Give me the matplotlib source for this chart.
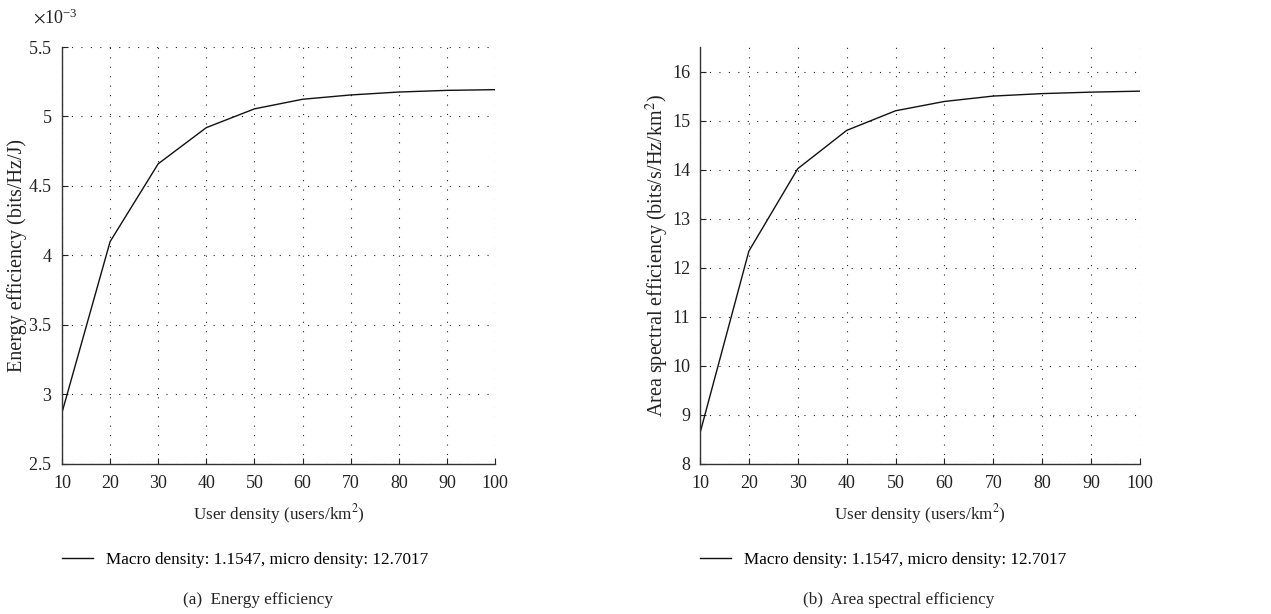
import matplotlib
matplotlib.use("Agg")
import matplotlib.pyplot as plt
from matplotlib.ticker import ScalarFormatter

plt.rcParams['font.family'] = ['Liberation Serif', 'DejaVu Serif']
plt.rcParams['mathtext.fontset'] = 'stix'

user_density = [10, 20, 30, 40, 50, 60, 70, 80, 90, 100]
energy_eff = [2.87e-3, 4.10e-3, 4.66e-3, 4.92e-3, 5.055e-3, 5.124e-3, 5.155e-3, 5.176e-3, 5.188e-3, 5.193e-3]
area_se = [8.63, 12.34, 14.02, 14.80, 15.20, 15.39, 15.50, 15.55, 15.58, 15.60]
legend_label = "Macro density: 1.1547, micro density: 12.7017"
xticks = [10, 20, 30, 40, 50, 60, 70, 80, 90, 100]
ee_yticks = [2.5e-3, 3e-3, 3.5e-3, 4e-3, 4.5e-3, 5e-3, 5.5e-3]
ase_yticks = [8, 9, 10, 11, 12, 13, 14, 15, 16]

W, H = 1271, 614
fig = plt.figure(figsize=(W / 100, H / 100), dpi=100)

def px_axes(l, r, t, b):
    return fig.add_axes([l / W, 1 - b / H, (r - l) / W, (b - t) / H])

ax1 = px_axes(62, 495, 47, 464)
ax2 = px_axes(700, 1140, 47, 464)

fs_tick = 13
fs = 12.3
fs_ylab = 14.5
txt_color = '#222222'

def style(ax):
    for s in ['top', 'right']:
        ax.spines[s].set_visible(False)
    for s in ['left', 'bottom']:
        ax.spines[s].set_linewidth(1.0)
        ax.spines[s].set_color('#333333')
    ax.tick_params(direction='in', length=4, width=0.8, labelsize=fs_tick, colors=txt_color)
    ax.tick_params(axis='x', pad=8)
    ax.tick_params(axis='y', pad=7)
    ax.grid(True, linestyle=(0, (1, 7.5)), color='#222222', linewidth=0.8)
    ax.set_xlim(10, 100)
    ax.set_xticks(xticks)
    ax.set_xlabel(r"User density (users/km$^2$)", fontsize=fs, color=txt_color, labelpad=7)

ax1.plot(user_density, energy_eff, color='#111111', linewidth=1.0, label=legend_label)
style(ax1)
ax1.set_ylim(2.5e-3, 5.5e-3)
ax1.set_yticks(ee_yticks)

class TrimFormatter(ScalarFormatter):
    def __call__(self, x, pos=None):
        s = super().__call__(x, pos)
        s = s.replace('.0}', '}')
        if s.endswith('.0'):
            s = s[:-2]
        return s

fmt = TrimFormatter(useMathText=True)
fmt.set_powerlimits((0, 0))
ax1.yaxis.set_major_formatter(fmt)
off = ax1.yaxis.get_offset_text()
off.set_fontsize(fs_tick)
off.set_x(-0.067)
ax1.yaxis.OFFSETTEXTPAD = 17
ax1.set_ylabel("Energy efficiency (bits/Hz/J)", fontsize=fs_ylab, color=txt_color, labelpad=1)

ax2.plot(user_density, area_se, color='#111111', linewidth=1.0, label=legend_label)
style(ax2)
ax2.set_ylim(8, 16.5)
ax2.set_yticks(ase_yticks)
ax2.set_ylabel(r"Area spectral efficiency (bits/s/Hz/km$^2$)", fontsize=fs_ylab, color=txt_color, labelpad=1)

for ax in (ax1, ax2):
    ax.legend(loc='center left', bbox_to_anchor=(0, -0.231), frameon=False,
              fontsize=fs, borderpad=0, borderaxespad=0, handlelength=1.8,
              handletextpad=0.75)

fig.text(258 / W, 1 - 600 / H, "(a)  Energy efficiency", ha='center', va='center', fontsize=fs, color=txt_color)
fig.text(899 / W, 1 - 600 / H, "(b)  Area spectral efficiency", ha='center', va='center', fontsize=fs, color=txt_color)

fig.savefig("out.png", dpi=100)
